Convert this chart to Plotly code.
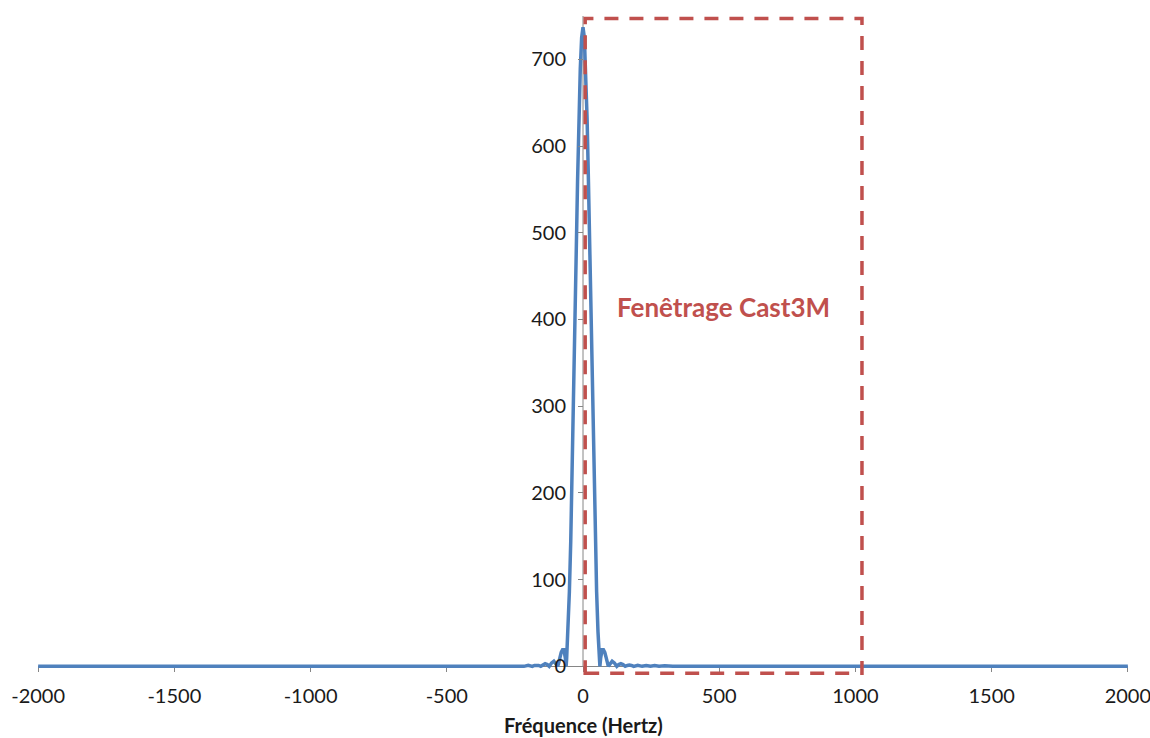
import plotly.graph_objects as go

# spectrum magnitude (Hz, amplitude)
freq = [-2000, -330, -300, -279, -263, -248, -232, -217, -201, -186, -178, -170, -163,
        -155, -147, -139, -131, -124, -115, -107, -100, -93, -90, -85, -80, -75,
        -70, -65, -62, -60, -55, -50, -45, -40, -35, -30, -25, -20, -15, -10, -5,
        0, 5, 10, 15, 20, 25, 30, 35, 40, 45, 50, 55, 60, 62, 65, 70, 75, 80, 85,
        90, 93, 100, 107, 115, 124, 131, 139, 147, 155, 163, 170, 178, 186, 201,
        217, 232, 248, 263, 279, 300, 330, 2000]
amplitude = [0, 0, 0.6, 0, 0.8, 0, 1, 0, 1.2, 0, 1, 1.5, 1,
             0, 2, 3, 2, 0, 4, 6, 3, 0, 3, 10, 16, 19,
             19, 10, 0, 9, 40, 86, 144, 216, 298, 386, 475, 559, 632, 689, 725,
             737, 725, 689, 632, 559, 475, 386, 298, 216, 144, 86, 40, 9, 0, 10, 19, 19, 16, 10,
             3, 0, 3, 6, 4, 0, 2, 3, 2, 0, 1, 1.5, 1, 0, 1.2,
             0, 1, 0, 0.8, 0, 0.6, 0, 0]

x_ticks = [-2000, -1500, -1000, -500, 0, 500, 1000, 1500, 2000]
x_labels = ["-2000", "-1500", "-1000", "-500", "0", "500", "1000", "1500", "2000"]
y_ticks = [0, 100, 200, 300, 400, 500, 600, 700]
x_range = [-2000.5, 2000.5]
y_range = [-10, 750]

# Cast3M window (Hz / amplitude)
win_f0, win_f1 = 8, 1024
win_a0, win_a1 = -8, 747

BLUE = "#4F81BD"
RED = "#C0504D"
GREY = "#868686"
FONT = "Lato, 'Open Sans', sans-serif"

fig = go.Figure(go.Scatter(
    x=freq, y=amplitude, mode="lines",
    line=dict(color=BLUE, width=3.5),
    hoverinfo="skip", showlegend=False,
))

fig.add_shape(type="line", xref="x", yref="y", x0=0, x1=0, y0=0, y1=y_range[1],
              line=dict(color=GREY, width=1), layer="below")
fig.add_shape(type="rect", xref="x", yref="y",
              x0=win_f0, x1=win_f1, y0=win_a0, y1=win_a1,
              line=dict(color=RED, width=3.5, dash="14px,11px"))

fig.add_annotation(x=517, y=414, xref="x", yref="y", text="<b>Fenêtrage Cast3M</b>",
                   showarrow=False, font=dict(color=RED, size=26, family=FONT))
fig.add_annotation(x=0, y=-0.076, xref="x", yref="paper", text="<b>Fréquence (Hertz)</b>",
                   showarrow=False, yanchor="middle",
                   font=dict(color="#1a1a1a", size=20, family=FONT))

fig.update_layout(
    width=1150, height=738,
    margin=dict(l=38, r=22, t=16, b=63),
    paper_bgcolor="white", plot_bgcolor="white",
    font=dict(family=FONT, size=20, color="#1a1a1a"),
    xaxis=dict(range=x_range, tickvals=x_ticks, ticktext=x_labels,
               showgrid=False, zeroline=False,
               showline=True, linecolor=GREY, linewidth=1,
               ticks="outside", ticklen=5, tickcolor=GREY,
               anchor="free", position=(0 - y_range[0]) / (y_range[1] - y_range[0]),
               layer="below traces", ticklabelstandoff=7, automargin=False,
               ticklabeloverflow="allow"),
    yaxis=dict(range=y_range, tickvals=y_ticks, showgrid=False, zeroline=False,
               showline=False, ticks="outside", ticklen=5, tickcolor=GREY,
               anchor="free", position=0.5, ticklabelstandoff=8, automargin=False),
)

# drop the default page margin so the figure fills the window exactly
fig.write_html("out.html", config={"displayModeBar": False},
               post_script="document.body.style.margin='0';"
                           "document.body.style.overflow='hidden';")
